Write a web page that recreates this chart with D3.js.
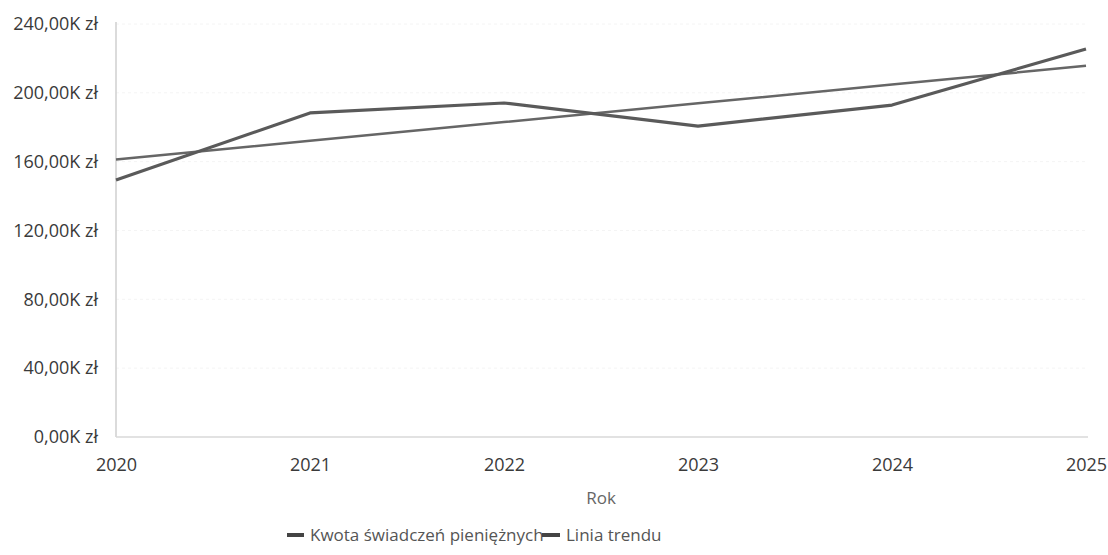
<!DOCTYPE html>
<html>
<head>
<meta charset="utf-8">
<script src="https://cdn.jsdelivr.net/npm/d3@7/dist/d3.min.js"></script>
<style>
  html, body { margin: 0; padding: 0; background: #fff; }
  svg { display: block; font-family: "Open Sans", "Noto Sans", sans-serif; }
  svg text { font-family: "Open Sans", "Noto Sans", sans-serif; }
</style>
</head>
<body>
<svg id="chart" width="1108" height="555"></svg>
<script>
const years = [2020, 2021, 2022, 2023, 2024, 2025];
const kwota = [149300, 188300, 194100, 180700, 192900, 225500];
const trend = [161200, 172100, 183000, 193900, 204800, 215700];
const yTicks = [0, 40000, 80000, 120000, 160000, 200000, 240000];
const seriesNames = ["Kwota świadczeń pieniężnych", "Linia trendu"];
const xTitle = "Rok";

const svg = d3.select("#chart");
const x = d3.scaleLinear().domain([2020, 2025]).range([116, 1086]);
const y = d3.scaleLinear().domain([0, 240000]).range([437, 24]);

const fmt = v => d3.format(".2f")(v / 1000).replace(".", ",") + "K zł";

// gridlines
svg.append("g")
  .selectAll("line")
  .data(yTicks.slice(1))
  .join("line")
  .attr("x1", 116).attr("x2", 1088)
  .attr("y1", d => y(d)).attr("y2", d => y(d))
  .attr("stroke", "#f4f4f4")
  .attr("stroke-width", 1)
  .attr("stroke-dasharray", "3,3");

// y axis
const yAxis = svg.append("g")
  .attr("transform", "translate(116,0)")
  .call(d3.axisLeft(y).tickValues(yTicks).tickFormat(fmt).tickSize(0).tickPadding(18));
yAxis.attr("font-family", null);
yAxis.select(".domain").attr("stroke", "#cfcfcf").attr("stroke-width", 1.5)
  .attr("d", `M0,${y(240000) - 2}V${y(0)}`);
yAxis.selectAll("text")
  .attr("font-size", 18)
  .attr("fill", "#3a3a3a")
  .attr("font-weight", 500);

// x axis
const xAxis = svg.append("g")
  .attr("transform", `translate(0,${y(0)})`)
  .call(d3.axisBottom(x).tickValues(years).tickFormat(d3.format("d")).tickSize(0).tickPadding(21));
xAxis.attr("font-family", null);
xAxis.select(".domain").attr("stroke", "#d9d9d9").attr("stroke-width", 1.5)
  .attr("d", `M116,0H1088`);
xAxis.selectAll("text")
  .attr("font-size", 18)
  .attr("fill", "#3a3a3a")
  .attr("font-weight", 500);

// axis title
svg.append("text")
  .attr("x", (x(2020) + x(2025)) / 2)
  .attr("y", 504)
  .attr("text-anchor", "middle")
  .attr("font-size", 17)
  .attr("fill", "#666")
  .text(xTitle);

// lines
const line = d3.line().x((d, i) => x(years[i])).y(d => y(d));
svg.append("path")
  .datum(trend)
  .attr("d", line)
  .attr("fill", "none")
  .attr("stroke", "#666")
  .attr("stroke-width", 2.5);
svg.append("path")
  .datum(kwota)
  .attr("d", line)
  .attr("fill", "none")
  .attr("stroke", "#5a5a5a")
  .attr("stroke-width", 3.2)
  .attr("stroke-linejoin", "round");

// legend
const legend = svg.append("g");
const l1 = legend.append("g").attr("transform", "translate(287,535)");
l1.append("line").attr("x1", 0).attr("x2", 17).attr("stroke", "#444").attr("stroke-width", 4);
l1.append("text").attr("x", 23).attr("dy", "0.35em").attr("font-size", 17).attr("fill", "#555").text(seriesNames[0]);
const l2 = legend.append("g").attr("transform", "translate(542,535)");
l2.append("line").attr("x1", 0).attr("x2", 18).attr("stroke", "#444").attr("stroke-width", 4);
l2.append("text").attr("x", 24).attr("dy", "0.35em").attr("font-size", 17).attr("fill", "#555").text(seriesNames[1]);
</script>
</body>
</html>
